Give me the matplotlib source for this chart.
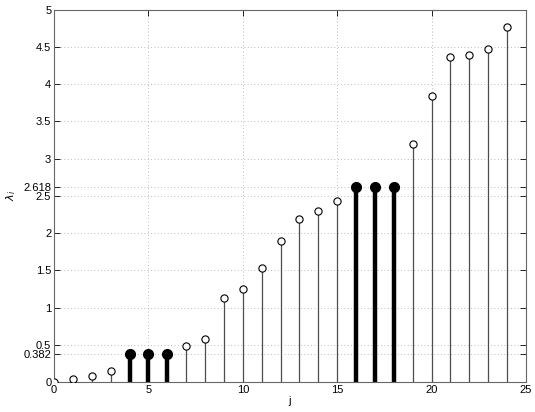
import numpy as np
import matplotlib
matplotlib.use('Agg')
import matplotlib.pyplot as plt

plt.rcParams['font.family'] = ['Liberation Sans', 'DejaVu Sans']
plt.rcParams['font.size'] = 8

# eigenvalues
j = np.arange(25)
lam = [0.0, 0.036, 0.08, 0.15, 0.382, 0.382, 0.382, 0.48, 0.58, 1.13,
       1.25, 1.53, 1.90, 2.19, 2.30, 2.43, 2.618, 2.618, 2.618, 3.20,
       3.84, 4.37, 4.39, 4.48, 4.77]
bold = [4, 5, 6, 16, 17, 18]

yticks = [0, 0.382, 0.5, 1, 1.5, 2, 2.5, 2.618, 3, 3.5, 4, 4.5, 5]
ylabels = ['0', '0.382', '0.5', '1', '1.5', '2', '2.5', '2.618', '3', '3.5', '4', '4.5', '5']

fig = plt.figure(figsize=(5.35, 4.12), dpi=100)
ax = fig.add_axes([0.101, 0.073, 0.882, 0.903])

thin = [k for k in j if k not in bold]
thin_y = [lam[k] for k in thin]
bold_y = [lam[k] for k in bold]

ax.vlines(thin, 0, thin_y, colors='0.3', lw=0.9, zorder=2)
ax.plot(thin, thin_y, 'o', mfc='white', mec='black', ms=5.2, mew=0.8, zorder=3)
ax.vlines(bold, 0, bold_y, colors='black', lw=3.2, zorder=2)
ax.plot(bold, bold_y, 'o', color='black', ms=7, zorder=3)

ax.set_xlim(0, 25)
ax.set_ylim(0, 5)
ax.set_xticks([0, 5, 10, 15, 20, 25])
ax.set_yticks(yticks)
ax.set_yticklabels(ylabels)
ax.tick_params(direction='in', length=4, width=0.6, pad=2)
ax.tick_params(top=True, right=True)
ax.grid(True, linestyle=(0, (1, 3)), color='0.65', lw=0.6)
for s in ax.spines.values():
    s.set_color('0.4')
    s.set_linewidth(0.8)

ax.set_xlabel('j', labelpad=1)
ax.set_ylabel(r'$\lambda_i$', labelpad=4)

fig.savefig('out.png', dpi=100)
